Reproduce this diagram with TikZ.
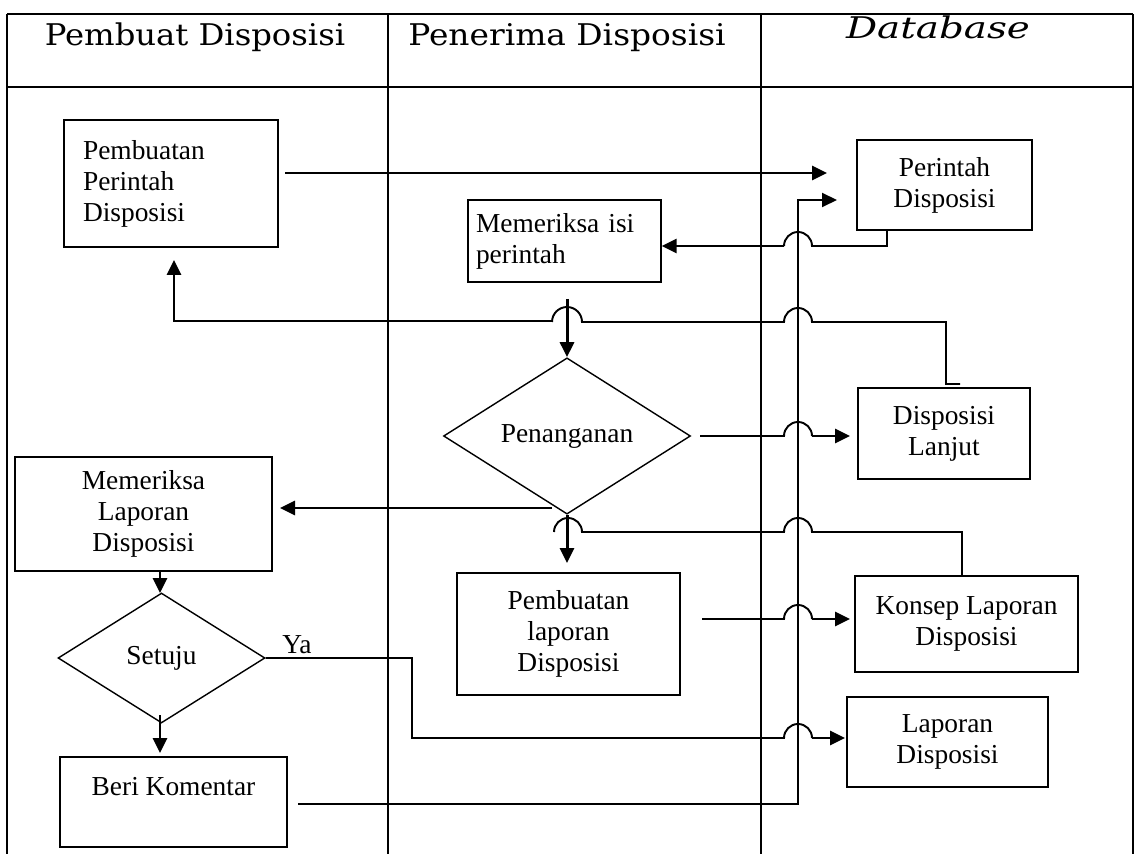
\documentclass[tikz,border=0pt]{standalone}
\usepackage{fontspec}
\usepackage{graphicx}
\setmainfont{Liberation Serif}
\newfontfamily\hdfont{DejaVu Serif}
\usetikzlibrary{shapes.geometric,arrows.meta}
\newcommand{\hdtext}[2][1.08]{\scalebox{#1}[1]{#2}}
\begin{document}
\begin{tikzpicture}[x=0.02cm,y=-0.02cm,
  box/.style={draw, line width=0.8pt, rectangle, inner sep=0pt, align=center,
    font=\fontsize{15.6}{17.6}\selectfont},
  dec/.style={draw, line width=0.8pt, diamond, inner sep=0pt,
    font=\fontsize{15.6}{17.6}\selectfont},
  lane/.style={line width=0.6pt},
  thinl/.style={line width=1.1pt},
  thickl/.style={line width=1.7pt},
  arr/.style={-{Triangle[length=0.3cm,width=0.28cm]}},
  hd/.style={inner sep=0pt, anchor=base, font=\hdfont\fontsize{17}{20}\selectfont}
]
\useasboundingbox (0,0) rectangle (1135,854);
% swimlane frame
\draw[lane] (7,14) -- (1133,14);
\draw[lane] (7,87) -- (1133,87);
\draw[lane] (7,14) -- (7,854);
\draw[lane] (388,14) -- (388,854);
\draw[lane] (761,14) -- (761,854);
\draw[lane] (1133,14) -- (1133,854);
\node[hd] (h1) at (195,46) {\hdtext{Pembuat Disposisi}};
\node[hd] (h2) at (567,46) {\hdtext[1.1]{Penerima Disposisi}};
\node[hd] (h3) at (938,39) {\hdtext[1.3]{\itshape Database}};

% nodes
\node[box, minimum width=4.28cm, minimum height=2.54cm, text width=3.52cm, align=left]
  (ppd) at (171,183.5) {Pembuatan\\Perintah\\Disposisi};
\node[box, minimum width=3.5cm, minimum height=1.8cm] (pd) at (944.5,185) {Perintah\\Disposisi};
\node[box, minimum width=3.86cm, minimum height=1.64cm, text width=3.54cm, align=left]
  (mip) at (564.5,241) {Memeriksa isi\\perintah};
\node[dec, minimum width=4.94cm, minimum height=3.04cm] (pen) at (567,436) {Penanganan};
\node[box, minimum width=3.44cm, minimum height=1.82cm] (dl) at (944,433.5) {Disposisi\\Lanjut};
\node[box, minimum width=5.14cm, minimum height=2.28cm] (mld) at (143.5,514) {Memeriksa\\Laporan\\Disposisi};
\node[box, minimum width=4.46cm, minimum height=2.44cm] (pld) at (568.5,634) {Pembuatan\\laporan\\Disposisi};
\node[box, minimum width=4.46cm, minimum height=1.92cm] (kld) at (966.5,624) {Konsep Laporan\\Disposisi};
\node[dec, minimum width=4.14cm, minimum height=2.6cm] (set) at (161.5,658) {Setuju};
\node[box, minimum width=4.02cm, minimum height=1.8cm] (ld) at (947.5,742) {Laporan\\Disposisi};
\node[box, minimum width=4.54cm, minimum height=1.8cm] (bk) at (173.5,802) {Beri Komentar\\~};
\node[font=\fontsize{15.6}{17.6}\selectfont, inner sep=0pt] (ya) at (297,645) {Ya};

% connectors
\coordinate (c1s) at (285,173);
\coordinate (c1e) at (827,173);
\draw[thickl, arr] (c1s) -- (c1e);

\coordinate (bkout) at (298,804);
\coordinate (pdin2) at (837,200);
\draw[thinl, arr] (bkout) -- (798,804) -- (798,200) -- (pdin2);

\draw[thinl] (pd.south -| 887,0) -- (887,246) -- (812,246) arc[start angle=0, end angle=180, radius=0.28cm];
\draw[thickl, arr] (784,246) -- (mip.east |- 0,246);

\coordinate (dlout) at (960,384);
\draw[thinl] (dlout) -- (946,384) -- (946,322) -- (812,322)
  arc[start angle=0, end angle=180, radius=0.28cm] -- (582,322)
  arc[start angle=0, end angle=180, radius=0.3cm];
\draw[thickl, arr] (552,321) -- (174,321) -- (174,260);

\draw[thickl, arr] (567,299) -- (pen.north);

\draw[thinl] (700,436) -- (784,436) arc[start angle=180, end angle=0, radius=0.28cm];
\draw[thickl, arr] (812,436) -- (850,436);

\draw[thickl, arr] (552,508) -- (280,508);

\draw[thickl, arr] (pen.south) -- (567,563);

\draw[thinl] (kld.north -| 962,0) -- (962,532) -- (812,532)
  arc[start angle=0, end angle=180, radius=0.28cm] -- (582,532)
  arc[start angle=0, end angle=180, radius=0.28cm];

\draw[thinl] (702,619) -- (784,619) arc[start angle=180, end angle=0, radius=0.28cm];
\draw[thickl, arr] (812,619) -- (850,619);

\draw[thickl, arr] (160,571) -- (160,593);
\draw[thickl, arr] (160,715) -- (160,753);

\draw[thinl] (set.east) -- (412,658) -- (412,738) -- (784,738) arc[start angle=180, end angle=0, radius=0.28cm];
\draw[thickl, arr] (812,738) -- (845,738);
\end{tikzpicture}
\end{document}
